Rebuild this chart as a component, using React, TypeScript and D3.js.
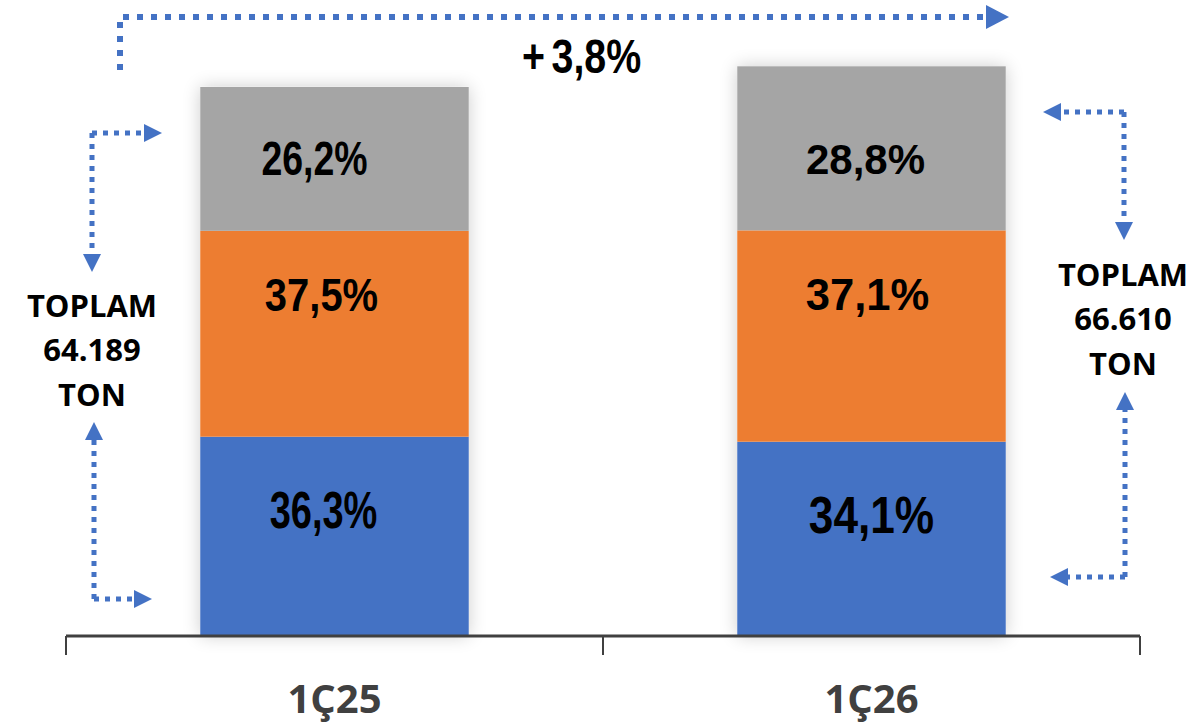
import React from 'react';
import * as d3 from 'd3';

const categories = ['1Ç25', '1Ç26'];
const totals = [64189, 66610];
const shareBottom = [36.3, 34.1];
const shareMiddle = [37.5, 37.1];
const shareTop = [26.2, 28.8];
const seriesNames = ['bottom', 'middle', 'top'];
const seriesColors = ['#4472C4', '#ED7D31', '#A5A5A5'];

const W = 1196;
const H = 725;
const AXIS_Y = 636;
const X0 = 66;
const X1 = 1140;

// label styling per [series][bar]: horizontal shift from bar centre, font size, horizontal squeeze
const labelStyle = [
  [{ dx: -11, fs: 52, sx: 0.73 }, { dx: 0, fs: 52, sx: 0.85 }],
  [{ dx: -13, fs: 47, sx: 0.85 }, { dx: -4, fs: 44, sx: 0.99 }],
  [{ dx: -20, fs: 48, sx: 0.78 }, { dx: -6, fs: 42, sx: 1.0 }],
];

const trLocale = d3.formatLocale({ decimal: ',', thousands: '.', grouping: [3], currency: ['', ''] });
const fmtPct = trLocale.format('.1f');
const fmtTon = trLocale.format(',d');

export default function App() {
  const x = d3.scaleBand<string>().domain(categories).range([X0, X1]).padding(0);
  const y = d3.scaleLinear().domain([0, 74360]).range([AXIS_Y, 0]);
  const barW = x.step() * 0.5;

  const rows = categories.map((c, i) => ({
    cat: c,
    bottom: (totals[i] * shareBottom[i]) / 100,
    middle: (totals[i] * shareMiddle[i]) / 100,
    top: (totals[i] * shareTop[i]) / 100,
    shares: [shareBottom[i], shareMiddle[i], shareTop[i]],
  }));
  const stack = d3.stack<any>().keys(seriesNames)(rows);

  const change = (totals[1] / totals[0] - 1) * 100;
  const ticks = [X0, ...categories.map((c) => (x(c) as number) + x.step())];

  const dotted = { stroke: '#4472C4', strokeWidth: 5, strokeDasharray: '5 6', fill: 'none' } as const;

  const totalText = (cx: number, y0: number, i: number) => (
    <text
      textAnchor="middle"
      fontFamily="'Open Sans', sans-serif"
      fontWeight={700}
      fontSize={31}
      fill="#000"
    >
      <tspan x={cx} y={y0}>TOPLAM</tspan>
      <tspan x={cx} y={y0 + 44}>{fmtTon(totals[i])}</tspan>
      <tspan x={cx} y={y0 + 89}>TON</tspan>
    </text>
  );

  return (
    <svg width={W} height={H} style={{ position: 'absolute', left: 0, top: 0, background: '#fff' }}>
      <defs>
        <filter id="glow" x="-20%" y="-20%" width="140%" height="140%">
          <feGaussianBlur in="SourceAlpha" stdDeviation="9" />
          <feComponentTransfer>
            <feFuncA type="linear" slope="0.2" />
          </feComponentTransfer>
          <feMerge>
            <feMergeNode />
            <feMergeNode in="SourceGraphic" />
          </feMerge>
        </filter>
        <marker id="arr" markerUnits="userSpaceOnUse" markerWidth="20" markerHeight="20" viewBox="0 -10 20 20" refX="0" refY="0" orient="auto">
          <path d="M0,-9L18,0L0,9Z" fill="#4472C4" />
        </marker>
        <marker id="arrBig" markerUnits="userSpaceOnUse" markerWidth="26" markerHeight="28" viewBox="0 -14 26 28" refX="0" refY="0" orient="auto">
          <path d="M0,-12L23,0L0,12Z" fill="#4472C4" />
        </marker>
      </defs>

      {/* bars */}
      {rows.map((r, i) => {
        const bx = (x(r.cat) as number) + (x.step() - barW) / 2;
        const topY = y(totals[i]);
        return (
          <rect key={'g' + i} x={bx} y={topY} width={barW} height={AXIS_Y - topY} fill="#fff" filter="url(#glow)" />
        );
      })}
      {stack.map((s, si) =>
        s.map((d, i) => {
          const bx = (x(rows[i].cat) as number) + (x.step() - barW) / 2;
          return (
            <rect
              key={si + '-' + i}
              x={bx}
              y={y(d[1])}
              width={barW}
              height={y(d[0]) - y(d[1])}
              fill={seriesColors[si]}
            />
          );
        })
      )}
      {stack.map((s, si) =>
        s.map((d, i) => {
          const st = labelStyle[si][i];
          const cx = (x(rows[i].cat) as number) + x.step() / 2 + st.dx;
          const yTop = y(d[1]);
          const yBot = y(d[0]);
          const base = si === 2 ? yBot - 56 : si === 1 ? yTop + 80 : yTop + 91;
          return (
            <g key={'l' + si + '-' + i} transform={`translate(${cx},${base}) scale(${st.sx},1)`}>
              <text
                textAnchor="middle"
                fontFamily="'Liberation Sans', Arial, sans-serif"
                fontWeight={700}
                fontSize={st.fs}
                fill="#000"
              >
                {fmtPct(rows[i].shares[si]) + '%'}
              </text>
            </g>
          );
        })
      )}

      {/* axis */}
      <line x1={X0} x2={X1} y1={AXIS_Y} y2={AXIS_Y} stroke="#404040" strokeWidth={3} />
      {ticks.map((t, i) => (
        <line key={'t' + i} x1={t} x2={t} y1={AXIS_Y} y2={AXIS_Y + 19} stroke="#404040" strokeWidth={2} />
      ))}
      {categories.map((c) => (
        <text
          key={c}
          x={(x(c) as number) + x.step() / 2}
          y={713}
          textAnchor="middle"
          fontFamily="'Open Sans', sans-serif"
          fontWeight={700}
          fontSize={40}
          fill="#404040"
        >
          {c}
        </text>
      ))}

      {/* top change arrow */}
      <path d="M120,70L120,17L986,17" {...dotted} strokeWidth={6} strokeDasharray="6 8" markerEnd="url(#arrBig)" />
      <g transform="translate(522,73) scale(0.82,1)">
        <text textAnchor="start" fontFamily="'Liberation Sans', Arial, sans-serif" fontWeight={700} fontSize={48} fill="#000">
          <tspan>+</tspan>
          <tspan dx={8}>{fmtPct(change) + '%'}</tspan>
        </text>
      </g>

      {/* left total annotation */}
      <path d="M92,133L144,133" {...dotted} markerEnd="url(#arr)" />
      <path d="M92,133L92,254" {...dotted} markerEnd="url(#arr)" />
      <path d="M94,599L94,440" {...dotted} markerEnd="url(#arr)" />
      <path d="M94,599L134,599" {...dotted} markerEnd="url(#arr)" />
      {totalText(92, 317, 0)}

      {/* right total annotation */}
      <path d="M1124,112L1061,112" {...dotted} markerEnd="url(#arr)" />
      <path d="M1124,112L1124,222" {...dotted} markerEnd="url(#arr)" />
      <path d="M1125,577L1125,410" {...dotted} markerEnd="url(#arr)" />
      <path d="M1125,577L1068,577" {...dotted} markerEnd="url(#arr)" />
      {totalText(1123, 286, 1)}
    </svg>
  );
}
